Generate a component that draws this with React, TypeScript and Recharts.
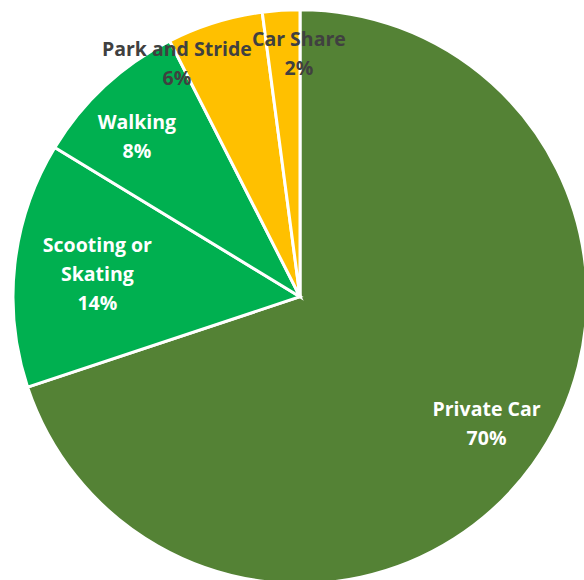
import React from "react";
import { PieChart, Pie, Cell } from "recharts";

const categories = ["Private Car", "Scooting or Skating", "Walking", "Park and Stride", "Car Share"];
const values = [69.9, 13.8, 8.8, 5.4, 2.1];
const percentLabels = ["70%", "14%", "8%", "6%", "2%"];
const nameLines = [["Private Car"], ["Scooting or", "Skating"], ["Walking"], ["Park and Stride"], ["Car Share"]];
const colors = ["#548235", "#00B050", "#00B050", "#FFC000", "#FFC000"];
const textColors = ["#FFFFFF", "#FFFFFF", "#FFFFFF", "#404040", "#404040"];
const radiusFactor = [0.75, 0.7, 0.8, 0.857, 0.85];
const labelDx = [12, -3, -7, -50, 15];
const labelDy = [0, -1, 7, 1, -1];

const data = categories.map((name, i) => ({ name, value: values[i] }));

const RAD = Math.PI / 180;
const LINE_H = 29;

const renderLabel = (props: any) => {
  const { cx, cy, midAngle, outerRadius, index } = props;
  const r = outerRadius * radiusFactor[index];
  const x = cx + r * Math.cos(-midAngle * RAD) + labelDx[index];
  const y = cy + r * Math.sin(-midAngle * RAD) + labelDy[index];
  const lines = [...nameLines[index], percentLabels[index]];
  const startY = y - ((lines.length - 1) * LINE_H) / 2;
  return (
    <text
      x={x}
      y={startY}
      textAnchor="middle"
      dominantBaseline="central"
      fill={textColors[index]}
      stroke="none"
      fontFamily="'Open Sans', sans-serif"
      fontWeight="bold"
      fontSize={19.5}
    >
      {lines.map((l, k) => (
        <tspan key={k} x={x} y={startY + k * LINE_H}>
          {l}
        </tspan>
      ))}
    </text>
  );
};

export default function App() {
  return (
    <div style={{ position: "absolute", left: 0, top: 0, width: 584, height: 580, background: "#fff" }}>
      <PieChart width={584} height={580} margin={{ top: 0, right: 0, bottom: 0, left: 0 }}>
        <Pie
          data={data}
          dataKey="value"
          nameKey="name"
          cx={300}
          cy={296.7}
          outerRadius={287}
          startAngle={90}
          endAngle={-270}
          stroke="#FFFFFF"
          strokeWidth={3}
          label={renderLabel}
          labelLine={false}
          isAnimationActive={false}
        >
          {data.map((d, i) => (
            <Cell key={d.name} fill={colors[i]} />
          ))}
        </Pie>
      </PieChart>
    </div>
  );
}
